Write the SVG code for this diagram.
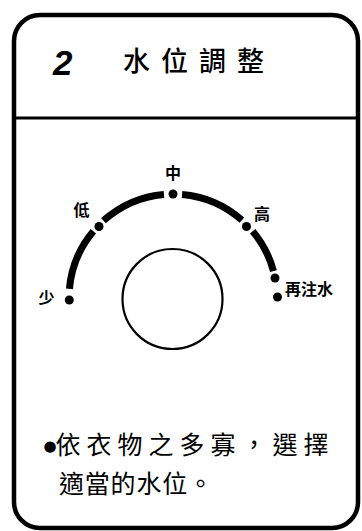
<svg xmlns="http://www.w3.org/2000/svg" width="362" height="531" viewBox="0 0 362 531">
  <style>
    .frame { fill: #fff; stroke: #000; stroke-width: 4.5; }
    .rule { stroke: #000; stroke-width: 3; fill: none; }
    .arc { fill: none; stroke: #000; stroke-width: 7; stroke-linecap: butt; }
    .dot { fill: #000; }
    .cjk { font-family: "Noto Sans CJK TC", "Noto Sans CJK SC", sans-serif; fill: #000; }
    .lbl { font-size: 16px; font-weight: bold; }
  </style>
  <rect width="362" height="531" fill="#fff"/>
  <g id="card">
    <rect class="frame" x="14" y="15" width="344" height="513" rx="26" ry="26"/>
    <line class="rule" x1="14" y1="118" x2="358" y2="118"/>
  </g>
  <g id="title">
    <text x="53" y="75" font-family="Liberation Sans, Arial, sans-serif" font-size="35" font-weight="bold" font-style="italic">2</text>
    <text class="cjk" x="123" y="70.5" font-size="27" font-weight="500" letter-spacing="11">水位調整</text>
  </g>
  <g id="connectors">
    <path class="arc" d="M69.4,288.9 A104,104 0 0 1 93.33,231.15"/>
    <path class="arc" d="M103.41,220.71 A104,104 0 0 1 163.94,194.4"/>
    <path class="arc" d="M182.06,194.4 A104,104 0 0 1 241.91,220.11"/>
    <path class="arc" d="M252.67,231.15 A104,104 0 0 1 273.46,271.08"/>
  </g>
  <g id="dial">
    <circle cx="172.5" cy="299" r="50" fill="none" stroke="#000" stroke-width="2.2"/>
  </g>
  <g id="level-few">
    <circle class="dot" cx="69.3" cy="300" r="4.5"/>
    <text class="cjk lbl" x="46.5" y="303" text-anchor="middle">少</text>
  </g>
  <g id="level-low">
    <circle class="dot" cx="99" cy="226.5" r="4.5"/>
    <text class="cjk lbl" x="81.5" y="216" text-anchor="middle">低</text>
  </g>
  <g id="level-mid">
    <circle class="dot" cx="173" cy="194" r="4.5"/>
    <text class="cjk lbl" x="173" y="179" text-anchor="middle">中</text>
  </g>
  <g id="level-high">
    <circle class="dot" cx="246.5" cy="226.5" r="4.5"/>
    <text class="cjk lbl" x="262" y="220" text-anchor="middle">高</text>
  </g>
  <g id="level-refill">
    <circle class="dot" cx="275" cy="278" r="4.5"/>
    <circle class="dot" cx="277.5" cy="297" r="4.5"/>
    <text class="cjk lbl" x="285" y="294.5" font-size="16.5">再注水</text>
  </g>
  <g id="note">
    <text class="cjk" x="43.5" y="453.5" font-size="25"><tspan font-family="DejaVu Sans, sans-serif" font-size="15" dy="-3">●</tspan><tspan x="55.5" dy="3" letter-spacing="6">依衣物之多寡，選擇</tspan></text>
    <text class="cjk" x="59" y="492.5" font-size="25" letter-spacing="0.8">適當的水位。</text>
  </g>
</svg>
